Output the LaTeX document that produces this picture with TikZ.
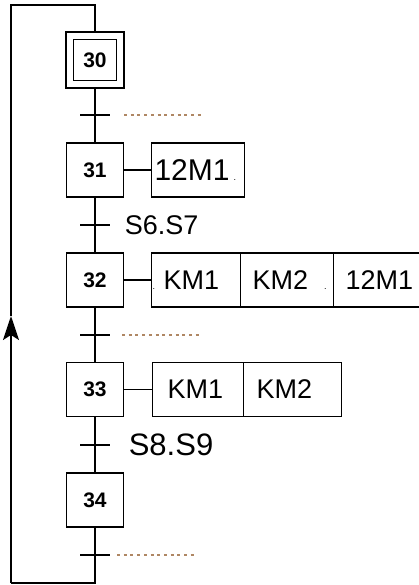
\documentclass[tikz,border=0pt]{standalone}
\usepackage{fontspec}
\setmainfont{Liberation Sans}
\usetikzlibrary{arrows.meta,positioning}
\definecolor{pointille}{RGB}{175,135,100}
\newcommand{\recept}[1]{\draw ([xshift=-15pt]#1) -- ([xshift=15pt]#1)}
\newcommand{\petitpoint}{{\fontsize{9}{9}\selectfont.}}

\begin{document}
\begin{tikzpicture}[x=1pt,y=-1pt,line width=1.6pt,
	etape/.style={draw,minimum width=57pt,minimum height=54pt,inner sep=0pt,outer sep=0pt,
		font=\fontsize{21}{21}\selectfont\bfseries},
	action/.style={draw,minimum height=54pt,inner sep=0pt,outer sep=0pt,text width=#1,
		align=left,font=\fontsize{27}{27}\selectfont},
	recep/.style={anchor=west,inner sep=0pt},
	pointilles/.style={pointille,line width=1.3pt,dash pattern=on 3pt off 3.7pt},
	retour/.style={-{Stealth[length=24pt,width=16pt,inset=5pt]}}]
\useasboundingbox (0,0) rectangle (419,585);
\clip (0,0) rectangle (419,585);
% etapes
\node[etape,minimum width=58pt,minimum height=56pt] (s30) at (95,60) {};
\node[draw,minimum width=43pt,minimum height=41pt,inner sep=0pt,
	font=\fontsize{21}{21}\selectfont\bfseries] (s30i) at (s30) {30};
\node[etape] (s31) at (95,170) {31};
\node[etape] (s32) at (95,280) {32};
\node[etape] (s33) at (95,389.5) {33};
\node[etape] (s34) at (95,500) {34};
% transitions
\coordinate (t30) at (95,115);
\coordinate (t31) at (95,225);
\coordinate (t32) at (95,335);
\coordinate (t33) at (95,445);
\coordinate (t34) at (95,555);
	\draw (s30) -- (s31);
	\draw (s31) -- (s32);
	\draw (s32) -- (s33);
	\draw (s33) -- (s34);
	\recept{t30};
	\recept{t31};
	\recept{t32};
	\recept{t33};
	\recept{t34};
	\draw[pointilles] ([xshift=29pt]t30) -- ([xshift=108pt]t30);
	\draw[pointilles] ([xshift=27pt]t32) -- ([xshift=106pt]t32);
	\draw[pointilles] ([xshift=22pt]t34) -- ([xshift=101pt]t34);
\node[recep,font=\fontsize{27}{27}\selectfont] (r31) at (124,225) {S6.S7};
\node[recep,font=\fontsize{31}{31}\selectfont] (r33) at (128,445) {S8.S9};
% actions
\node[action=93pt,right=28pt of s31,font=\fontsize{30}{30}\selectfont] (a31)
	{\hspace*{3pt}12M1\hspace{4pt}\petitpoint};
\node[action=89pt,right=28pt of s32] (a32a) {\hspace*{1pt}\petitpoint\hspace{8.5pt}KM1};
\node[action=93pt,right=0pt of a32a] (a32b) {\hspace*{12pt}KM2\hspace{16pt}\petitpoint};
\node[action=100pt,right=0pt of a32b] (a32c) {\hspace*{12pt}12M1};
\node[action=91pt,right=29pt of s33] (a33a) {\hspace*{15pt}KM1};
\node[action=98pt,right=0pt of a33a] (a33b) {\hspace*{13pt}KM2};
	\draw (s31) -- (a31);
	\draw (s32) -- (a32a);
	\draw (s33) -- (a33a);
% rebouclage
\coordinate (bas) at (95,583);
\coordinate (coinbg) at (11,583);
\coordinate (fleche) at (11,316);
\coordinate (coinhg) at (11,5);
\coordinate (haut) at (95,5);
\draw (s34) -- (bas) -- (coinbg);
\draw[retour] (coinbg) -- (fleche);
\draw (fleche) -- (coinhg) -- (haut) -- (s30);
\end{tikzpicture}
\end{document}
